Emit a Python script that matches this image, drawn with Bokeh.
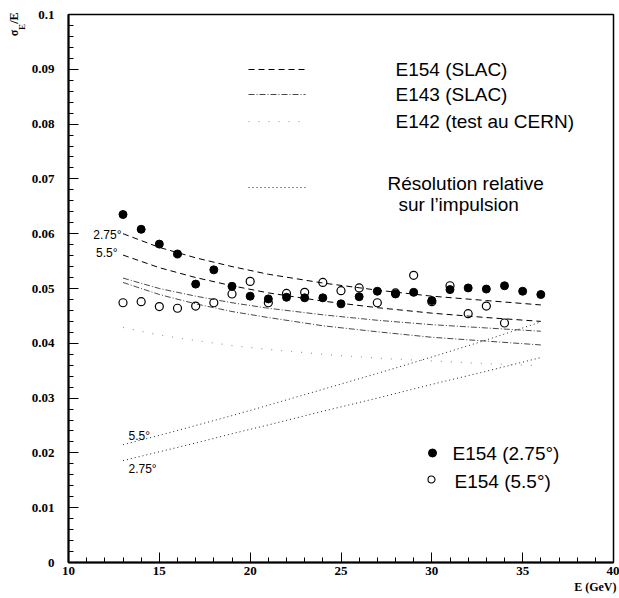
import math
from bokeh.plotting import figure
from bokeh.models import FixedTicker, CustomJSTickFormatter, Label, Range1d, Title
from bokeh.embed import file_html
from bokeh.resources import INLINE

# ---- data ----
energy_275 = [13, 14, 15, 16, 17, 18, 19, 20, 21, 22, 23, 24, 25, 26, 27, 28, 29, 30, 31, 32, 33, 34, 35, 36]
sigma_275 = [0.0635, 0.0608, 0.0581, 0.0563, 0.0508, 0.0534, 0.0504, 0.0486, 0.0481, 0.0484, 0.0483, 0.0483,
             0.0472, 0.0485, 0.0495, 0.0490, 0.0493, 0.0478, 0.0498, 0.0501, 0.0499, 0.0505, 0.0495, 0.0489]
energy_55 = [13, 14, 15, 16, 17, 18, 19, 20, 21, 22, 23, 24, 25, 26, 27, 28, 29, 30, 31, 32, 33, 34]
sigma_55 = [0.0474, 0.0476, 0.0467, 0.0464, 0.0468, 0.0474, 0.0490, 0.0513, 0.0474, 0.0491, 0.0493, 0.0511,
            0.0496, 0.0501, 0.0474, 0.0492, 0.0524, 0.0476, 0.0505, 0.0454, 0.0468, 0.0437]

curve_energy = [13, 15, 17, 19, 21, 24, 27, 30, 33, 36]
e154_275 = [0.0600, 0.0575, 0.0556, 0.0540, 0.0526, 0.0510, 0.0497, 0.0486, 0.0478, 0.0470]
e154_55 = [0.0561, 0.0538, 0.0520, 0.0505, 0.0492, 0.0477, 0.0465, 0.0455, 0.0447, 0.0440]
e143_a = [0.0519, 0.0500, 0.0486, 0.0474, 0.0464, 0.0452, 0.0442, 0.0434, 0.0428, 0.0422]
e143_b = [0.0511, 0.0489, 0.0472, 0.0458, 0.0447, 0.0432, 0.0421, 0.0411, 0.0404, 0.0397]
e142 = [0.0429, 0.0415, 0.0405, 0.0396, 0.0389, 0.0380, 0.0373, 0.0368, 0.0363, 0.0359]
resol_55 = [0.0215, 0.0232, 0.0250, 0.0268, 0.0287, 0.0316, 0.0345, 0.0375, 0.0406, 0.0439]
resol_275 = [0.0186, 0.0202, 0.0218, 0.0235, 0.0251, 0.0276, 0.0300, 0.0325, 0.0349, 0.0374]

x_ticks = [10, 15, 20, 25, 30, 35, 40]
x_minor = list(range(10, 41))
y_ticks = [0.0, 0.01, 0.02, 0.03, 0.04, 0.05, 0.06, 0.07, 0.08, 0.09, 0.1]
y_minor = [i * 0.002 for i in range(0, 51)]

# ---- figure ----
W, H = 619, 598
ML, MR, MT, MB = 68, 6, 14, 36
p = figure(width=W, height=H, x_range=Range1d(10, 40), y_range=Range1d(0, 0.1),
           output_backend="svg", toolbar_location=None,
           min_border_left=ML, min_border_right=MR, min_border_top=MT, min_border_bottom=MB)
p.grid.visible = False
p.outline_line_color = "black"
p.outline_line_width = 1.5
p.background_fill_color = "white"
p.border_fill_color = None

for ax in (p.xaxis[0], p.yaxis[0]):
    ax.axis_line_width = 2
    ax.major_tick_in = 10
    ax.major_tick_out = 0
    ax.minor_tick_in = 5
    ax.minor_tick_out = 0
    ax.major_tick_line_width = 1
    ax.minor_tick_line_width = 1
    ax.major_label_text_font = "Liberation Serif"
    ax.major_label_text_font_style = "bold"
    ax.major_label_text_font_size = "13px"
    ax.major_label_text_color = "black"

p.xaxis.ticker = FixedTicker(ticks=x_ticks, minor_ticks=x_minor)
p.yaxis.ticker = FixedTicker(ticks=y_ticks, minor_ticks=y_minor)
p.yaxis.formatter = CustomJSTickFormatter(code="return String(Number(tick.toFixed(4)));")
p.xaxis.major_label_standoff = 4
p.yaxis.major_label_standoff = 14

# axis titles (outside the frame -> Title objects in the side panels)
serif_bold = dict(text_font="Liberation Serif", text_font_style="bold", text_color="black")
p.add_layout(Title(text="E (GeV)", align="right", text_font_size="12px", standoff=0, offset=-3,
                   **serif_bold), "below")
# subscript "E" (inner column, closer to the axis)
p.add_layout(Title(text="E", align="right", vertical_align="top", text_font_size="9px", standoff=0,
                   offset=9.5, **serif_bold), "left")
# "sigma  /E" (outer column)
try:
    t_sig = Title(text="σ\u2002/E", align="right", vertical_align="bottom", text_font_size="12px",
                  standoff=-8, offset=-2, **serif_bold)
except Exception:
    t_sig = Title(text="σ\u2002/E", align="right", vertical_align="bottom", text_font_size="12px",
                  standoff=0, offset=-2, **serif_bold)
p.add_layout(t_sig, "left")

# canvas pixel (same as reference pixel) -> data
FL, FR, FT, FB = ML, W - MR, MT, H - MB
def X(px):
    return 10 + (px - FL) * 30.0 / (FR - FL)
def Y(py):
    return (FB - py) * 0.1 / (FB - FT)

# curves
dash_style = dict(line_color="black", line_width=1, line_dash="6 4")
dashdot_style = dict(line_color="#333333", line_width=0.9, line_dash="6 2 1 2")
e142_style = dict(line_color="#9a9a9a", line_width=1.2, line_dash="1 9")
resol_style = dict(line_color="#222222", line_width=1, line_dash="1 3")

p.line(curve_energy, e154_275, **dash_style)
p.line(curve_energy, e154_55, **dash_style)
p.line(curve_energy, e143_a, **dashdot_style)
p.line(curve_energy, e143_b, **dashdot_style)
p.line(curve_energy, e142, **e142_style)
p.line(curve_energy, resol_55, **resol_style)
p.line(curve_energy, resol_275, **resol_style)

# points
p.scatter(energy_55, sigma_55, marker="circle", size=8, fill_color=None, line_color="black", line_width=1.2)
p.scatter(energy_275, sigma_275, marker="circle", size=8, fill_color="black", line_color="black")

# legend samples (upper)
p.line([X(248), X(305)], [Y(69), Y(69)], **dash_style)
p.line([X(248), X(305)], [Y(94), Y(94)], **dashdot_style)
p.line([X(248), X(305)], [Y(121), Y(121)], **e142_style)
p.line([X(248), X(305)], [Y(187), Y(187)], **resol_style)

def lab(px, py, text, size, align="left", font="Liberation Sans", style="normal", angle=0.0):
    p.add_layout(Label(x=X(px), y=Y(py), text=text, text_font=font, text_font_size=f"{size}px",
                       text_font_style=style, text_align=align, text_baseline="middle",
                       text_color="black", angle=angle))

lab(395, 69, "E154 (SLAC)", 19)
lab(395, 94, "E143 (SLAC)", 19)
lab(395, 121, "E142 (test au CERN)", 19)
lab(387, 183, "Résolution relative", 19)
lab(398, 204, "sur l\u2019impulsion", 19)

# curve annotations
lab(121, 234, "2.75°", 12, align="right")
lab(117, 252, "5.5°", 12, align="right")
lab(128, 435, "5.5°", 12)
lab(128, 468, "2.75°", 12)

# lower legend
p.scatter([X(432)], [Y(452.5)], marker="circle", size=8, fill_color="black", line_color="black")
p.scatter([X(431)], [Y(479)], marker="circle", size=7, fill_color=None, line_color="black", line_width=1.1)
lab(452, 453, "E154 (2.75°)", 19)
lab(454, 481, "E154 (5.5°)", 19)

open("out.html", "w").write(file_html(p, INLINE))
